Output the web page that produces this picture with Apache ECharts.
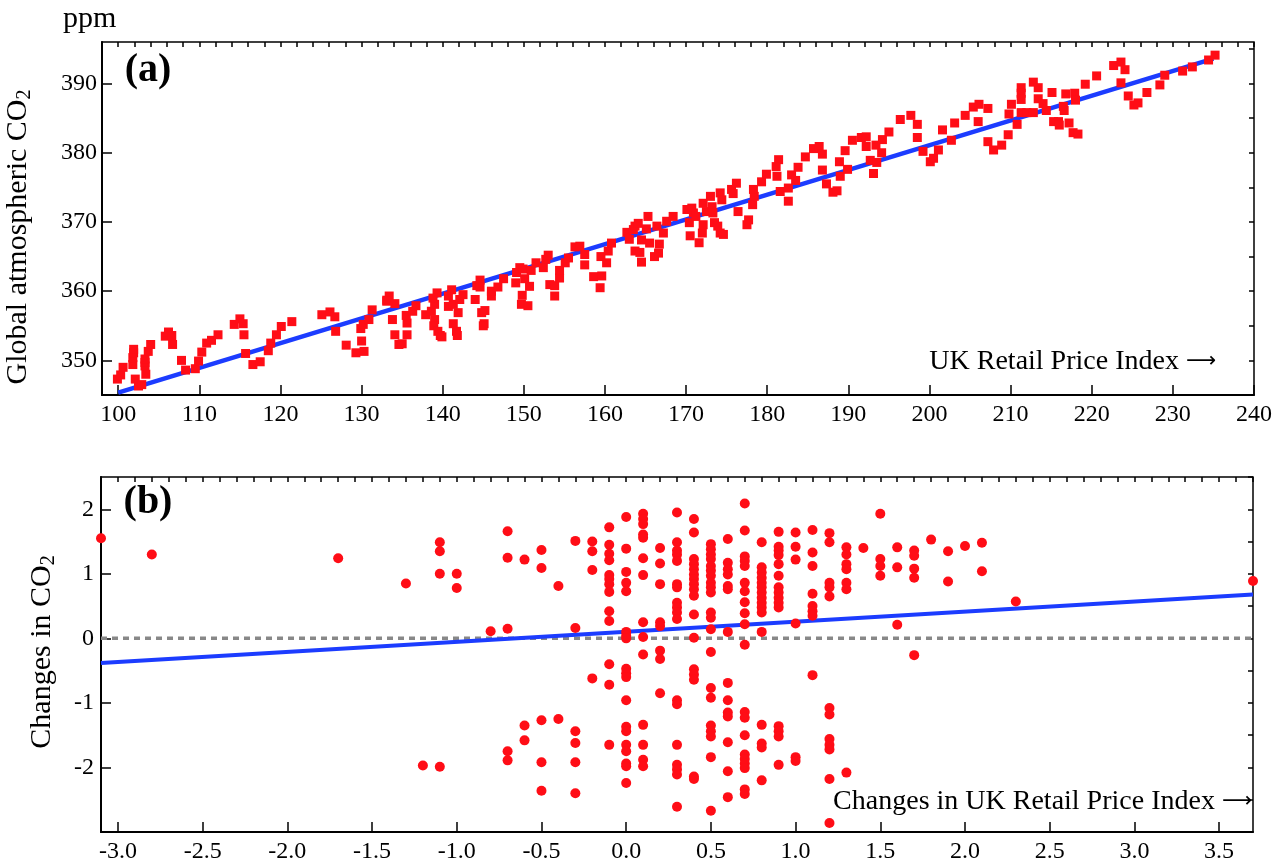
<!DOCTYPE html>
<html>
<head>
<meta charset="utf-8">
<script src="https://cdn.jsdelivr.net/npm/echarts@6/dist/echarts.min.js"></script>
<style>
html,body{margin:0;padding:0;background:#fff;}
#chart{width:1279px;height:867px;}
</style>
</head>
<body>
<div id="chart"></div>
<script>
// ---------- Panel (a): UK RPI vs global CO2 ----------
const rpi = [
99.9,100.3,100.6,101.8,101.8,101.9,101.9,102.1,102.5,102.9,103.3,103.3,103.3,103.4,103.7,104.0,
105.8,106.2,106.6,106.7,107.8,108.3,109.5,109.9,110.3,110.9,111.5,112.3,114.3,115.0,115.4,115.5,
115.7,116.6,117.5,118.5,118.8,119.5,120.1,121.4,125.1,126.1,126.7,126.8,128.1,129.3,130.3,130.0,
129.9,130.2,130.9,131.3,133.1,
133.4,133.1,134.1,133.8,134.1,134.6,135.0,135.6,135.6,135.5,136.3,136.7,137.9,138.6,139.0,139.3,
138.8,139.0,138.9,139.4,139.7,139.9,140.7,141.1,140.7,141.3,142.1,142.5,141.9,141.3,141.7,141.8,
144.0,144.2,144.6,144.6,144.8,145.2,145.1,145.0,146.0,146.0,146.8,147.5,149.1,149.5,149.9,149.0,
150.1,150.7,149.8,149.7,150.5,150.9,151.5,152.4,152.7,153.0,153.2,153.8,153.8,154.4,154.4,155.1,
155.5,156.3,156.9,157.5,157.5,158.6,159.4,159.6,159.5,160.2,160.4,160.8,162.7,163.0,163.5,163.7,
164.1,164.5,165.3,165.5,165.1,163.7,164.3,164.5,166.1,166.6,166.7,167.2,166.4,167.6,168.4,
170.1,170.7,170.4,170.5,170.9,171.2,171.6,172.0,172.1,172.1,172.5,173.0,173.2,173.3,173.5,173.9,
174.2,174.6,174.2,174.4,175.6,176.2,175.8,176.4,177.7,177.5,178.2,178.4,178.3,179.3,179.9,181.4,
181.1,181.2,181.6,182.6,182.6,183.0,183.5,183.8,184.7,185.7,186.4,186.8,186.8,187.3,188.1,188.6,
188.9,189.0,189.6,189.9,190.5,191.6,192.2,192.2,192.7,193.1,193.4,193.5,194.1,194.2,195.0,196.4,
197.7,198.5,198.5,199.2,200.1,200.5,201.1,201.6,202.7,203.1,204.4,
205.4,206.1,206.0,207.2,207.2,207.9,208.9,209.7,209.8,210.1,210.8,211.3,211.3,211.3,211.3,212.0,
212.8,212.8,213.4,213.4,214.0,214.4,215.1,215.3,215.9,216.0,216.5,216.6,216.8,217.2,217.7,218.3,
217.9,218.0,219.2,220.6,222.7,223.6,224.1,223.6,224.5,225.2,225.7,226.8,228.4,229.0,231.2,232.4,
234.4,235.2
];
const co2 = [
347.3,347.9,349.0,349.4,350.4,351.1,351.6,347.3,346.3,346.5,349.2,349.7,350.2,348.0,351.3,352.3,
353.5,354.1,353.6,352.3,350.0,348.6,348.8,349.9,351.2,352.5,352.9,353.7,355.2,356.0,355.3,353.7,
351.0,349.4,349.8,351.4,352.5,353.7,354.9,355.6,356.6,357.0,356.3,354.2,352.2,351.1,351.3,352.8,
354.6,355.2,355.9,357.3,358.7,
359.3,358.55,358.2,355.9,353.7,352.3,352.4,353.7,355.4,356.5,357.1,357.9,356.6,357.1,358.1,359.75,
359.0,355.9,355.0,354.2,353.6,353.4,359.3,360.2,357.8,358.1,358.8,359.5,356.9,355.3,354.2,353.6,
358.8,360.8,361.6,360.6,356.9,357.2,355.3,355.0,359.3,360.0,360.6,361.8,362.7,363.4,363.2,361.2,
361.8,360.7,359.4,358.1,357.9,363.0,364.1,363.4,364.6,365.2,360.95,360.8,359.3,361.9,363.0,364.1,
364.8,366.4,366.5,365.3,363.8,362.1,360.5,362.2,365.0,364.1,365.8,366.95,368.5,367.5,368.9,369.4,
369.8,367.4,370.8,366.95,369.0,365.8,365.6,364.2,365.0,365.5,366.8,368.4,369.4,370.1,370.8,
371.8,372.0,369.9,368.0,371.3,370.8,367.0,368.4,369.6,372.7,371.5,373.7,372.2,371.3,369.9,369.4,
368.4,368.2,374.2,373.2,374.7,375.6,374.1,371.5,370.3,369.6,372.5,373.7,374.7,375.8,376.9,379.0,
378.0,376.6,374.4,374.9,373.0,376.8,376.0,377.9,379.4,380.6,380.9,379.8,377.5,375.5,374.3,374.5,
378.7,376.6,380.3,377.6,381.8,382.2,382.3,380.9,378.9,377.0,381.1,378.6,380.0,381.9,383.0,384.8,
385.4,384.1,382.2,380.2,378.7,379.2,380.4,383.3,381.8,384.3,385.4,
386.6,387.0,384.5,386.4,381.6,380.4,381.1,382.6,385.6,387.0,384.1,389.4,388.6,387.7,385.8,385.8,
390.2,385.8,389.4,387.8,387.1,386.1,388.7,384.5,384.5,384.0,386.7,386.1,388.5,384.3,382.9,382.7,
388.6,387.6,389.9,391.1,392.6,393.1,392.0,390.1,388.2,386.9,387.2,388.7,389.8,391.2,391.8,392.4,
393.4,394.1
];
const fitA_x = [100, 235];
const fitA_y = [345.35, 393.6];
const ticksA_x = [100,110,120,130,140,150,160,170,180,190,200,210,220,230,240];
const ticksA_y = [350,360,370,380,390];

// ---------- Panel (b): changes in RPI vs changes in CO2 ----------
const dRPI = [-3.1,-2.8,-1.7,-1.3,-1.2,-1.1,-1.0,-0.8,-0.7,-0.6,-0.5,-0.4,-0.3,-0.2,-0.1,
  0.0,0.1,0.2,0.3,0.4,0.5,0.6,0.7,0.8,0.9,1.0,1.1,1.2,1.3,1.4,1.5,1.6,1.7,1.8,1.9,2.0,2.1,2.3,3.7];
const dCO2 = [
  [1.55],
  [1.30],
  [1.24],
  [0.85],
  [-1.97],
  [1.49,1.35,1.00,-1.99],
  [1.00,0.78],
  [0.11],
  [1.66,1.25,0.15,-1.75,-1.89],
  [1.22,-1.35,-1.58],
  [1.37,1.09,-1.27,-1.92,-2.36],
  [0.81,-1.25],
  [1.51,0.16,-1.44,-1.62,-1.92,-2.40],
  [1.50,1.35,1.06,-0.62],
  [1.72,1.45,1.31,1.21,0.98,0.92,0.84,0.72,0.42,0.27,-0.40,-0.72,-1.65],
  [1.88,1.39,1.03,0.86,0.73,0.10,0.04,0.0,-0.47,-0.54,-0.60,-0.96,-1.37,-1.44,-1.65,-1.75,-1.94,-1.98,-2.24],
  [1.93,1.85,1.77,1.61,1.56,1.24,0.98,0.25,0.02,-0.25,-1.34,-1.65,-1.88,-1.98],
  [1.40,1.16,0.84,0.25,0.19,-0.19,-0.32,-0.85],
  [1.95,1.49,1.36,1.30,1.20,0.84,0.79,0.55,0.48,0.40,0.30,-0.96,-1.02,-1.65,-1.96,-2.03,-2.11,-2.61],
  [1.85,1.64,1.23,1.15,1.07,0.99,0.92,0.84,0.76,0.66,0.37,0.01,-0.48,-0.56,-0.64,-2.14,-2.18],
  [1.46,1.38,1.30,1.23,1.12,1.05,0.97,0.86,0.79,0.71,0.40,0.32,0.14,-0.21,-0.77,-0.92,-1.35,-1.44,-1.52,-1.84,-2.67],
  [1.54,1.17,1.07,0.99,0.81,0.76,0.10,-0.69,-0.96,-1.15,-1.21,-1.61,-2.06,-2.46],
  [2.09,1.67,1.27,1.20,1.12,0.86,0.73,0.56,0.39,0.22,-0.10,-1.14,-1.23,-1.50,-1.80,-1.87,-1.94,-2.01,-2.34,-2.41],
  [1.49,1.10,1.02,0.94,0.86,0.79,0.71,0.63,0.55,0.48,0.40,0.10,-1.34,-1.63,-1.69,-2.20],
  [1.65,1.42,1.36,1.29,1.15,0.97,0.79,0.71,0.63,0.55,0.48,-1.36,-1.44,-1.52,-1.96],
  [1.64,1.42,1.22,0.23,-1.84,-1.90],
  [1.68,1.33,1.12,0.69,0.50,0.42,0.35,-0.57],
  [1.63,1.49,0.86,0.79,0.65,-1.08,-1.18,-1.56,-1.65,-1.72,-2.18,-2.86],
  [1.41,1.30,1.15,1.07,0.86,0.76,-2.08],
  [1.40],
  [1.93,1.23,1.12,0.97],
  [1.41,1.10,0.21],
  [1.36,1.28,1.08,0.94,-0.26],
  [1.53],
  [1.35,0.88],
  [1.43],
  [1.48,1.04],
  [0.57],
  [0.89]
];
const fitB_x = [-3.1, 3.7];
const fitB_y = [-0.38, 0.68];
const zeroB_x = [-3.1, 3.7];
const zeroB_y = [0, 0];
const ticksB_x = [-3.0,-2.5,-2.0,-1.5,-1.0,-0.5,0.0,0.5,1.0,1.5,2.0,2.5,3.0,3.5];
const ticksB_y = [-2,-1,0,1,2];

// ---------- build ----------
const FONT = '"Liberation Serif", "Times New Roman", serif';
const RED = '#ff0d16';
const BLUE = '#1c3cff';

const scatterA = rpi.map((x, i) => [x, co2[i]]);
const scatterB = [];
dRPI.forEach((x, i) => dCO2[i].forEach(y => scatterB.push([x, y])));
const pairs = (xs, ys) => xs.map((x, i) => [x, ys[i]]);

function range(a, b, step, dec) {
  const out = [];
  const n = Math.round((b - a) / step);
  for (let i = 0; i <= n; i++) out.push(+(a + i * step).toFixed(dec));
  return out;
}
const minorA_x = range(98, 240, 2, 0);
const minorA_y = range(345, 395, 5, 0);
const minorB_x = range(-3.1, 3.7, 0.1, 1);
const minorB_y = range(-2.5, 2.5, 0.5, 1);

const labelStyle = { color: '#000', fontSize: 24, fontFamily: FONT };
const axisLine = { show: true, onZero: false, lineStyle: { color: '#000', width: 2 } };

function majorAxis(grid, min, max, ticks, fmt, margin) {
  return {
    type: 'value', gridIndex: grid, min: min, max: max,
    axisLine: axisLine,
    axisTick: { show: true, inside: true, length: 10, customValues: ticks, lineStyle: { color: '#000', width: 1.5 } },
    axisLabel: Object.assign({ customValues: ticks, formatter: fmt, margin: margin }, labelStyle),
    splitLine: { show: false }
  };
}
function minorAxis(grid, min, max, ticks) {
  return {
    type: 'value', gridIndex: grid, min: min, max: max,
    axisLine: { show: false, onZero: false },
    axisTick: { show: true, inside: true, length: 5, customValues: ticks, lineStyle: { color: '#000', width: 1.5 } },
    axisLabel: { show: false },
    splitLine: { show: false }
  };
}

const sub = { fontSize: 20, fontFamily: FONT, fill: '#000', lineHeight: 16, verticalAlign: 'bottom' };
const big = { fontSize: 30, fontFamily: FONT, fill: '#000', lineHeight: 34 };
const txt = { fontSize: 28, fontFamily: FONT, fill: '#000', lineHeight: 32 };
const arr = { fontSize: 21, fontFamily: '"DejaVu Sans"', fill: '#000', lineHeight: 32 };

const option = {
  animation: false,
  backgroundColor: '#fff',
  grid: [
    { left: 102, top: 42, width: 1152, height: 353, show: true, borderColor: '#000', borderWidth: 1.5 },
    { left: 101, top: 477, width: 1152, height: 355, show: true, borderColor: '#000', borderWidth: 1.5 }
  ],
  xAxis: [
    majorAxis(0, 98, 240, ticksA_x, v => String(v), 8),
    minorAxis(0, 98, 240, minorA_x),
    majorAxis(1, -3.1, 3.7, ticksB_x, v => v.toFixed(1), 8),
    minorAxis(1, -3.1, 3.7, minorB_x)
  ],
  yAxis: [
    majorAxis(0, 345, 396, ticksA_y, v => String(v), 5),
    minorAxis(0, 345, 396, minorA_y),
    majorAxis(1, -3, 2.5, ticksB_y, v => String(v), 7),
    minorAxis(1, -3, 2.5, minorB_y)
  ],
  series: [
    { type: 'line', xAxisIndex: 0, yAxisIndex: 0, data: pairs(fitA_x, fitA_y), showSymbol: false,
      lineStyle: { color: BLUE, width: 4.5 }, z: 2, silent: true },
    { type: 'scatter', xAxisIndex: 0, yAxisIndex: 0, data: scatterA, symbol: 'rect', symbolSize: 9,
      itemStyle: { color: RED, opacity: 1 }, z: 3 },
    { type: 'line', xAxisIndex: 2, yAxisIndex: 2, data: pairs(zeroB_x, zeroB_y), showSymbol: false,
      lineStyle: { color: '#888', width: 3.5, type: [6, 5] }, z: 1, silent: true },
    { type: 'line', xAxisIndex: 2, yAxisIndex: 2, data: pairs(fitB_x, fitB_y), showSymbol: false,
      lineStyle: { color: BLUE, width: 4 }, z: 2, silent: true },
    { type: 'scatter', xAxisIndex: 2, yAxisIndex: 2, data: scatterB, symbol: 'circle', symbolSize: 10,
      itemStyle: { color: RED, opacity: 1 }, z: 3 }
  ],
  graphic: [
    { type: 'text', left: 63, top: 4, style: { text: 'ppm', font: '30px ' + FONT, fill: '#000' } },
    { type: 'text', x: 148, y: 71, style: { text: '(a)', font: 'bold 40px ' + FONT, fill: '#000', align: 'center', verticalAlign: 'middle' } },
    { type: 'text', x: 148, y: 503, style: { text: '(b)', font: 'bold 40px ' + FONT, fill: '#000', align: 'center', verticalAlign: 'middle' } },
    { type: 'text', x: 1216, y: 362, style: { text: '{t|UK Retail Price Index }{a|\u27F6}', rich: { t: txt, a: arr }, align: 'right', verticalAlign: 'middle' } },
    { type: 'text', x: 1252, y: 802, style: { text: '{t|Changes in UK Retail Price Index }{a|\u27F6}', rich: { t: txt, a: arr }, align: 'right', verticalAlign: 'middle' } },
    { type: 'text', x: 18, y: 237, rotation: Math.PI / 2,
      style: { text: '{t|Global atmospheric CO}{s|2}', rich: { t: big, s: sub }, align: 'center', verticalAlign: 'middle' } },
    { type: 'text', x: 42, y: 652, rotation: Math.PI / 2,
      style: { text: '{t|Changes in CO}{s|2}', rich: { t: big, s: sub }, align: 'center', verticalAlign: 'middle' } }
  ]
};

const chart = echarts.init(document.getElementById('chart'), null, { renderer: 'canvas' });
chart.setOption(option);
</script>
</body>
</html>
